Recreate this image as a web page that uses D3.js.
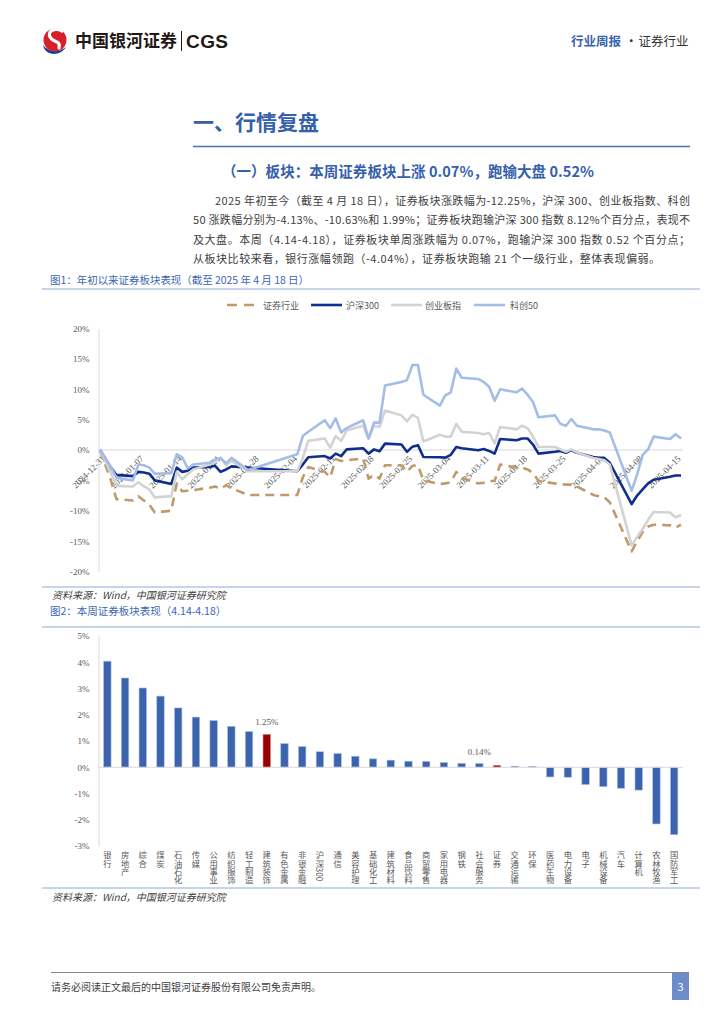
<!DOCTYPE html>
<html><head><meta charset="utf-8">
<script src="https://cdn.jsdelivr.net/npm/d3@7"></script>
<style>
html,body{margin:0;padding:0;background:#fff;}
svg{display:block;font-family:"Noto Sans CJK SC","Noto Sans",sans-serif;}
</style></head><body>
<svg id="page" width="724" height="1024"></svg>
<script>
// ---------------- DATA ----------------
const tradeDates = ["2024-12-31","2025-01-02","2025-01-03","2025-01-06","2025-01-07","2025-01-08","2025-01-09","2025-01-10",
"2025-01-13","2025-01-14","2025-01-15","2025-01-16","2025-01-17","2025-01-20","2025-01-21","2025-01-22","2025-01-23","2025-01-24",
"2025-01-27","2025-02-05","2025-02-06","2025-02-07","2025-02-10","2025-02-11","2025-02-12","2025-02-13","2025-02-14",
"2025-02-17","2025-02-18","2025-02-19","2025-02-20","2025-02-21","2025-02-24","2025-02-25","2025-02-26","2025-02-27","2025-02-28",
"2025-03-03","2025-03-04","2025-03-05","2025-03-06","2025-03-07","2025-03-10","2025-03-11","2025-03-12","2025-03-13","2025-03-14",
"2025-03-17","2025-03-18","2025-03-19","2025-03-20","2025-03-21","2025-03-24","2025-03-25","2025-03-26","2025-03-27","2025-03-28",
"2025-03-31","2025-04-01","2025-04-02","2025-04-03","2025-04-07","2025-04-08","2025-04-09","2025-04-10","2025-04-11",
"2025-04-14","2025-04-15","2025-04-16"];

const securitiesValues = [0,-5.0,-8.1,-8.3,-7.6,-8.3,-9.0,-10.3,
-10.0,-5.5,-6.8,-6.7,-6.6,-6.2,-6.0,-6.4,-5.8,-6.3,
-7.4,-7.4,-4.5,-2.8,-3.6,-4.5,-1.5,-1.8,-1.7,
-1.4,-4.7,-4.1,-4.7,-2.5,-2.5,-3.6,-2.6,-2.5,-5.0,
-5.6,-5.5,-5.3,-3.6,-4.6,-5.5,-5.4,-5.1,-5.1,-2.4,
-2.9,-2.9,-3.2,-3.8,-5.1,-5.5,-5.6,-5.7,-5.7,-6.0,
-7.4,-7.6,-7.8,-8.6,-16.7,-15.0,-13.5,-12.6,-12.3,
-12.4,-12.8,-12.3];

const hs300Values = [0,-2.9,-4.1,-4.3,-3.6,-3.7,-3.9,-5.0,
-5.6,-2.9,-3.6,-3.4,-2.9,-2.8,-2.6,-3.6,-3.2,-2.7,
-2.9,-3.5,-2.4,-1.2,-1.0,-1.4,-0.6,-1.0,0.1,
0.3,-0.6,0.1,-0.2,1.05,0.9,-0.3,0.55,0.8,-1.15,
-1.2,-1.25,-0.8,0.5,0.3,-0.05,0.15,-0.15,-0.6,1.8,
1.6,1.9,1.9,0.9,-0.6,-0.3,-0.15,-0.45,0.0,-0.45,
-1.15,-1.3,-1.3,-2.1,-8.9,-7.5,-6.5,-5.5,-4.9,
-4.4,-4.2,-4.2];

const chinextValues = [0,-3.8,-5.9,-6.0,-5.3,-6.0,-6.5,-7.8,
-7.6,-3.6,-4.8,-4.0,-3.2,-2.4,-1.8,-1.3,-2.5,-1.8,
-3.5,-3.5,-1.3,1.5,1.9,0.4,2.3,1.5,3.2,
4.0,1.9,4.0,3.8,6.5,5.7,4.7,5.8,5.3,1.4,
2.5,2.2,2.2,4.3,3.0,2.8,2.6,2.8,1.1,3.8,
3.4,4.0,3.6,2.2,0.5,0.5,0.1,-0.3,0.1,-0.4,
-1.3,-1.5,-1.7,-2.4,-15.7,-14.3,-13.0,-11.5,-10.2,
-10.3,-11.1,-10.7];

const star50Values = [0,-2.8,-4.6,-5.0,-2.4,-2.5,-2.9,-3.9,
-3.8,-0.7,-1.2,-3.0,-2.4,-2.1,-1.6,-1.3,-2.2,-1.3,
-3.3,-0.7,2.3,3.0,4.9,3.6,5.2,2.9,3.6,
4.9,1.9,4.5,4.5,10.6,11.2,11.5,14.0,14.0,9.1,
7.3,9.0,9.5,13.4,11.9,11.7,11.2,10.4,8.1,10.0,
9.5,10.1,9.1,7.9,5.4,5.7,4.3,4.0,5.1,4.0,
3.4,3.4,3.2,2.9,-6.7,-4.0,-0.8,0.1,2.2,
1.8,2.6,1.9];

const seriesNames = ["证券行业","沪深300","创业板指","科创50"];
const xTickLabels = ["2024-12-31","2025-01-07","2025-01-14","2025-01-21","2025-01-28","2025-02-04","2025-02-11","2025-02-18",
"2025-02-25","2025-03-04","2025-03-11","2025-03-18","2025-03-25","2025-04-01","2025-04-08","2025-04-15"];
const yTicks1 = [-20,-15,-10,-5,0,5,10,15,20];

const industries = ["银行","房地产","综合","煤炭","石油石化","传媒","公用事业","纺织服饰","轻工制造","建筑装饰","有色金属",
"非银金融","沪深300","通信","美容护理","基础化工","建筑材料","食品饮料","商贸零售","家用电器","钢铁","社会服务","证券",
"交通运输","环保","医药生物","电力设备","电子","机械设备","汽车","计算机","农林牧渔","国防军工"];
const weeklyChanges = [4.04,3.40,3.02,2.71,2.26,1.91,1.78,1.56,1.36,1.25,0.90,
0.79,0.59,0.52,0.42,0.32,0.27,0.23,0.22,0.18,0.15,0.14,0.07,
0.04,0.03,-0.37,-0.38,-0.66,-0.74,-0.80,-0.87,-2.16,-2.57];
const highlightIndustries = ["建筑装饰","证券"];
const labelledIndustries = ["建筑装饰","社会服务"];
const yTicks2 = [-3,-2,-1,0,1,2,3,4,5];

// ---------------- STYLE ----------------
const seriesStyle = [
  {color:"#C09A6A", dash:"9,6"},
  {color:"#102F8C", dash:null},
  {color:"#D3D3D3", dash:null},
  {color:"#A3BCE8", dash:null}
];
const textGrey = "#595959";
const blue = "#3560AB";

const svg = d3.select("#page");
svg.append("rect").attr("width",724).attr("height",1024).attr("fill","#fff");

// ---------------- HEADER ----------------
const logo = svg.append("g");
logo.append("circle").attr("cx",55).attr("cy",40).attr("r",11.5).attr("fill","#D7202A");
logo.append("path").attr("d","M43,45 C45,56 60,57 66,47 C59,53 49,53 43,45 Z").attr("fill","#1C3F93");
logo.append("path").attr("d","M62,31 C55,27 47,31 50,37 C53,43 61,40 59,48")
  .attr("fill","none").attr("stroke","#fff").attr("stroke-width",3.2).attr("stroke-linecap","round");
svg.append("text").attr("x",75).attr("y",47).attr("font-size",17).attr("font-weight","bold")
  .attr("fill","#231815").attr("textLength",102).text("中国银河证券");
svg.append("line").attr("x1",181.5).attr("x2",181.5).attr("y1",31).attr("y2",51).attr("stroke","#231815").attr("stroke-width",1);
svg.append("text").attr("x",186).attr("y",47.5).attr("font-size",19).attr("font-weight","bold")
  .attr("font-family","Liberation Sans, Arial, sans-serif").attr("fill","#231815").attr("textLength",42).text("CGS");
svg.append("text").attr("x",571).attr("y",45.5).attr("font-size",12.5).attr("font-weight","bold").attr("fill","#3B64AE").text("行业周报");
svg.append("text").attr("x",625).attr("y",45.5).attr("font-size",12.5).attr("fill","#333").text("·");
svg.append("text").attr("x",638.5).attr("y",45.5).attr("font-size",12.5).attr("fill","#333").text("证券行业");

// ---------------- TITLES / TEXT ----------------
svg.append("text").attr("x",193).attr("y",129.5).attr("font-size",21).attr("font-weight","bold").attr("fill",blue).text("一、行情复盘");
svg.append("line").attr("x1",193).attr("x2",690).attr("y1",146.5).attr("y2",146.5).attr("stroke","#4A72B8").attr("stroke-width",1.5);
svg.append("text").attr("x",222).attr("y",177).attr("font-size",14.5).attr("font-weight","bold").attr("fill",blue)
  .attr("textLength",372).text("（一）板块：本周证券板块上涨 0.07%，跑输大盘 0.52%");

const paraLines = [
  {x:215, w:475, t:"2025 年初至今（截至 4 月 18 日），证券板块涨跌幅为-12.25%，沪深 300、创业板指数、科创"},
  {x:193, w:497, t:"50 涨跌幅分别为-4.13%、-10.63%和 1.99%；证券板块跑输沪深 300 指数 8.12%个百分点，表现不"},
  {x:193, w:497, t:"及大盘。本周（4.14-4.18），证券板块单周涨跌幅为 0.07%，跑输沪深 300 指数 0.52 个百分点；"},
  {x:193, w:467, t:"从板块比较来看，银行涨幅领跑（-4.04%），证券板块跑输 21 个一级行业，整体表现偏弱。"}
];
paraLines.forEach((l,i)=>{
  svg.append("text").attr("x",l.x).attr("y",204.5+i*19.5).attr("font-size",11).attr("fill","#404040")
    .attr("textLength",l.w).attr("lengthAdjust","spacing").text(l.t);
});

svg.append("text").attr("x",50).attr("y",284).attr("font-size",10.5).attr("fill","#3C66B4")
  .attr("textLength",259).text("图1：年初以来证券板块表现（截至 2025 年 4 月 18 日）");
svg.append("line").attr("x1",42).attr("x2",700).attr("y1",289).attr("y2",289).attr("stroke","#8EA8D8").attr("stroke-width",1);

// ---------------- CHART 1 ----------------
const parse = d3.timeParse("%Y-%m-%d");
const dts = tradeDates.map(parse);
const x1 = d3.scaleTime().domain([dts[0], dts[dts.length-1]]).range([100,681]);
const y1 = d3.scaleLinear().domain([-20,20]).range([571.5,328.5]);

const c1 = svg.append("g");
c1.append("line").attr("x1",98.5).attr("x2",683).attr("y1",y1(0)).attr("y2",y1(0)).attr("stroke","#D9D9D9").attr("stroke-width",1.2);
const yAx1 = c1.append("g").attr("transform","translate(98.5,0)")
  .call(d3.axisLeft(y1).tickValues(yTicks1).tickFormat(d=>d+"%").tickSize(0).tickPadding(9));
yAx1.select(".domain").attr("stroke","#D9D9D9");
yAx1.selectAll("text").attr("font-size",9).attr("fill",textGrey).attr("font-family","Liberation Serif, serif");

const xAx1 = c1.append("g").attr("transform","translate(0,"+(y1(0)+4)+")")
  .call(d3.axisBottom(x1).tickValues(xTickLabels.map(parse)).tickFormat(d3.timeFormat("%Y-%m-%d")).tickSize(0).tickPadding(0));
xAx1.select(".domain").remove();
xAx1.selectAll("text").attr("font-size",9).attr("fill",textGrey).attr("font-family","Liberation Serif, serif")
  .attr("text-anchor","end").attr("dy","0.35em").attr("transform","translate(3,3) rotate(-45)");

const allSeries = [securitiesValues, hs300Values, chinextValues, star50Values];
const lineGen = d3.line().x((d,i)=>x1(dts[i])).y(d=>y1(d));
allSeries.forEach((vals,k)=>{
  const p = c1.append("path").datum(vals).attr("d",lineGen).attr("fill","none")
    .attr("stroke",seriesStyle[k].color).attr("stroke-width",2.6).attr("stroke-linejoin","round");
  if(seriesStyle[k].dash) p.attr("stroke-dasharray",seriesStyle[k].dash);
});

const legendPos = [{lx:227,tx:263},{lx:311,tx:346},{lx:391,tx:425},{lx:474,tx:510}];
seriesNames.forEach((n,k)=>{
  const g = svg.append("g");
  const ln = g.append("line").attr("x1",legendPos[k].lx).attr("x2",legendPos[k].lx+31).attr("y1",305).attr("y2",305)
    .attr("stroke",seriesStyle[k].color).attr("stroke-width",2.6);
  if(seriesStyle[k].dash) ln.attr("x2",legendPos[k].lx+27).attr("stroke-dasharray","10,7");
  g.append("text").attr("x",legendPos[k].tx).attr("y",308.5).attr("font-size",9).attr("fill",textGrey).text(n);
});

svg.append("line").attr("x1",42).attr("x2",700).attr("y1",587).attr("y2",587).attr("stroke","#8EA8D8").attr("stroke-width",1);
svg.append("text").attr("x",52).attr("y",599).attr("font-size",10).attr("font-style","italic").attr("fill","#404040")
  .text("资料来源：Wind，中国银河证券研究院");

// ---------------- CHART 2 ----------------
svg.append("text").attr("x",50).attr("y",615).attr("font-size",10.5).attr("fill","#3C66B4")
  .text("图2：本周证券板块表现（4.14-4.18）");
svg.append("line").attr("x1",42).attr("x2",700).attr("y1",627).attr("y2",627).attr("stroke","#8EA8D8").attr("stroke-width",1);

const x2 = d3.scaleBand().domain(industries).range([98.5,683]).paddingInner(0.58).paddingOuter(0.29);
const y2 = d3.scaleLinear().domain([-3,5]).range([846,636]);
const c2 = svg.append("g");
const yAx2 = c2.append("g").attr("transform","translate(98.5,0)")
  .call(d3.axisLeft(y2).tickValues(yTicks2).tickFormat(d=>d+"%").tickSize(0).tickPadding(9));
yAx2.select(".domain").attr("stroke","#D9D9D9");
yAx2.selectAll("text").attr("font-size",9).attr("fill",textGrey).attr("font-family","Liberation Serif, serif");

c2.selectAll("rect.bar").data(industries).enter().append("rect").attr("class","bar")
  .attr("x",d=>x2(d)).attr("width",x2.bandwidth())
  .attr("y",(d,i)=>y2(Math.max(0,weeklyChanges[i])))
  .attr("height",(d,i)=>Math.abs(y2(weeklyChanges[i])-y2(0)))
  .attr("fill",d=>highlightIndustries.includes(d)?"#990000":"#3C64AE")
  .attr("stroke",d=>highlightIndustries.includes(d)?"#C98080":"#A9BDE3").attr("stroke-width",0.6);

c2.append("line").attr("x1",98.5).attr("x2",683).attr("y1",y2(0)).attr("y2",y2(0)).attr("stroke","#D9D9D9").attr("stroke-width",1.2);

industries.forEach((d,i)=>{
  if(labelledIndustries.includes(d)){
    c2.append("text").attr("x",x2(d)+x2.bandwidth()/2).attr("y",y2(weeklyChanges[i])-9)
      .attr("text-anchor","middle").attr("font-size",9).attr("fill",textGrey).attr("font-family","Liberation Serif, serif")
      .text(weeklyChanges[i].toFixed(2)+"%");
  }
});

// vertical category labels (one text element each)
c2.selectAll("text.cat").data(industries).enter().append("text").attr("class","cat")
  .attr("x",d=>x2(d)+x2.bandwidth()/2).attr("y",851)
  .style("writing-mode","vertical-rl").attr("font-size",8.3).attr("fill",textGrey)
  .text(d=>d);

svg.append("line").attr("x1",42).attr("x2",700).attr("y1",888).attr("y2",888).attr("stroke","#8EA8D8").attr("stroke-width",1);
svg.append("text").attr("x",52).attr("y",901).attr("font-size",10).attr("font-style","italic").attr("fill","#404040")
  .text("资料来源：Wind，中国银河证券研究院");

// ---------------- FOOTER ----------------
svg.append("line").attr("x1",51).attr("x2",689).attr("y1",972.5).attr("y2",972.5).attr("stroke","#888").attr("stroke-width",1.2);
svg.append("text").attr("x",51).attr("y",991).attr("font-size",10).attr("fill","#404040")
  .text("请务必阅读正文最后的中国银河证券股份有限公司免责声明。");
svg.append("rect").attr("x",672).attr("y",973).attr("width",17).attr("height",27).attr("fill","#6C8CCB");
svg.append("text").attr("x",680.5).attr("y",991).attr("text-anchor","middle").attr("font-size",11).attr("fill","#fff").text("3");
</script>
</body></html>
